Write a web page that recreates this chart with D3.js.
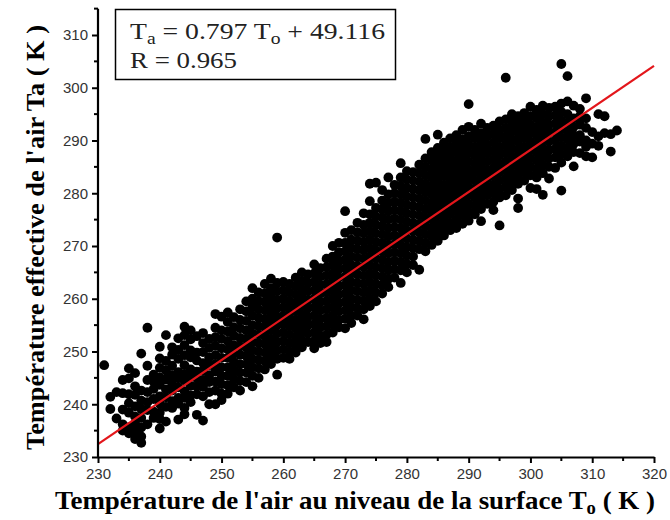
<!DOCTYPE html>
<html><head><meta charset="utf-8">
<script src="https://cdn.jsdelivr.net/npm/d3@7"></script>
<style>body{margin:0;background:#fff}svg{display:block}</style>
</head><body>
<svg id="c" width="670" height="520"></svg>
<script>
// ---- data ----
const xTicks = [230,240,250,260,270,280,290,300,310,320];
const yTicks = [230,240,250,260,270,280,290,300,310];
const fitSlope = 0.797, fitIntercept = 49.116, fitR = 0.965;
const fitRange = [230, 320];

// columns: [To, [Ta values...]]
const pointsLow = [
 [231,[247.4]],[232,[241.4,239.1]],[233,[242.3,237.3]],
 [234,[244.6,242.1,239.0,236.2,235.0]],
 [235,[246.8,244.9,241.9,240.2,238.4,235.6,234.5]],
 [236,[245.9,243.4,241.8,239.6,237.7,236.4,234.9,233.4]],
 [237,[249.6,242.6,240.7,239.1,237.4,235.6,233.9,232.7]],
 [238,[254.5,247.3,244.6,242.3,240.4,238.9,236.2]],
 [239,[245.6,244.3,242.9,241.0,238.6,237.4]],
 [240,[250.9,248.7,246.9,245.1,243.7,241.5,240.1,238.4,237.2,235.4]],
 [241,[253.1,248.2,246.4,244.7,242.8,241.3,239.5,236.7]],
 [242,[250.8,249.4,247.3,245.5,243.9,242.6,240.6,239.3]],
 [243,[252.5,250.3,248.6,246.1,244.9,243.2,241.2,240.1,237.1]],
 [244,[254.7,253.1,251.2,249.3,247.4,245.7,244.5,242.5,241.2,239.3,238.1]],
 [245,[254.0,252.3,250.2,248.9,246.6,245.3,243.5,241.7,240.4]],
 [246,[252.9,249.8,248.3,246.2,244.9,243.4,241.9,238.0]],
 [247,[253.5,251.6,249.9,247.8,246.4,244.6,243.3,241.5,236.9]],
 [248,[252.4,250.7,248.9,247.4,245.5,244.2,242.3,240.0]],
 [249,[257.1,254.5,252.7,251.1,249.3,247.6,246.2,244.3,242.6,240.0]],
 [250,[256.6,254.0,252.4,250.6,248.8,247.0,245.4,243.8,242.0,240.8]],
 [251,[257.4,255.6,253.8,252.0,250.4,248.8,247.0,245.4,243.6,242.0]],
 [252,[256.5,254.6,253.0,251.2,249.6,248.0,246.4,244.8,243.2]],
 [253,[258.0,256.0,254.4,252.6,251.0,249.4,247.6,246.0,244.4,242.6]],
 [254,[259.5,257.6,255.8,254.0,252.4,250.8,249.2,247.6,246.0,244.2]]
];
const pointsMid = [
 [255,[262.0,260.0,258.4,256.8,255.0,253.4,251.8,250.2,248.6,247.0,245.4,243.4]],
 [256,[261.2,259.6,258.0,256.4,254.8,253.2,251.6,250.0,248.4,246.8,245.0]],
 [257,[262.8,261.0,259.4,257.8,256.2,254.6,253.0,251.4,249.8,248.2,246.6]],
 [258,[263.8,262.0,260.4,258.8,257.2,255.6,254.0,252.4,250.8,249.2,247.6]],
 [259,[271.6,263.0,261.4,259.8,258.2,256.6,255.0,253.4,251.8,250.2,248.6,245.6]],
 [260,[263.2,261.6,260.0,258.4,256.8,255.2,253.6,252.0,250.4,248.8]],
 [261,[262.8,261.2,259.6,258.0,256.4,254.8,253.2,251.6,250.0,248.6]],
 [262,[264.0,262.4,260.8,259.2,257.6,256.0,254.4,252.8,251.2,249.8]],
 [263,[265.0,263.4,261.8,260.2,258.6,257.0,255.4,253.8,252.2,250.8]],
 [264,[264.6,263.0,261.4,259.8,258.2,256.6,255.0,253.4,251.8]],
 [265,[266.5,264.8,263.2,261.6,260.0,258.4,256.8,255.2,253.6,252.0,250.6]],
 [266,[265.8,264.2,262.6,261.0,259.4,257.8,256.2,254.6,253.0,251.6]],
 [267,[267.6,266.0,264.4,262.8,261.2,259.6,258.0,256.4,254.8,253.2,251.8]],
 [268,[270.0,268.0,266.4,264.8,263.2,261.6,260.0,258.4,256.8,255.2,253.6]],
 [269,[270.6,268.8,267.2,265.6,264.0,262.4,260.8,259.2,257.6,256.0,254.6]],
 [270,[276.6,272.5,270.6,269.0,267.4,265.8,264.2,262.6,261.0,259.4,257.8,256.2,254.4]],
 [271,[273.0,271.2,269.6,268.0,266.4,264.8,263.2,261.6,260.0,258.4,256.8,255.4]],
 [272,[274.4,272.6,271.0,269.4,267.8,266.2,264.6,263.0,261.4,259.8,258.2,256.8]],
 [273,[276.2,274.0,272.4,270.8,269.2,267.6,266.0,264.4,262.8,261.2,259.6,258.0,256.1]],
 [274,[281.8,278.5,276.0,274.4,272.8,271.2,269.6,268.0,266.4,264.8,263.2,261.6,260.0,258.6]],
 [275,[282.0,277.2,275.6,274.0,272.4,270.8,269.2,267.6,266.0,264.4,262.8,261.2,259.5]],
 [276,[280.6,278.6,277.0,275.4,273.8,272.2,270.6,269.0,267.4,265.8,264.2,262.6,261.0]],
 [277,[283.0,279.8,278.2,276.6,275.0,273.4,271.8,270.2,268.6,267.0,265.4,263.8,262.2]],
 [278,[281.6,280.0,278.4,276.8,275.2,273.6,272.0,270.4,268.8,267.2,265.6,264.0]],
 [279,[285.7,283.0,281.4,279.8,278.2,276.6,275.0,273.4,271.8,270.2,268.6,267.0,265.4,263.0]],
 [280,[284.2,282.6,281.0,279.4,277.8,276.2,274.6,273.0,271.4,269.8,268.2,266.6,265.0]],
 [281,[284.0,282.4,280.8,279.2,277.6,276.0,274.4,272.8,271.2,269.6,268.0,266.4]],
 [282,[285.4,283.8,282.2,280.6,279.0,277.4,275.8,274.2,272.6,271.0,269.4,265.5]],
 [283,[290.3,286.6,285.0,283.4,281.8,280.2,278.6,277.0,275.4,273.8,272.2,270.6,269.0]],
 [284,[287.8,286.2,284.6,283.0,281.4,279.8,278.2,276.6,275.0,273.4,271.8,270.2]]
];
const pointsHigh = [
 [285,[291.1,288.6,287.0,285.4,283.8,282.2,280.6,279.0,277.4,275.8,274.2,272.6,271.0]],
 [286,[289.6,288.0,286.4,284.8,283.2,281.6,280.0,278.4,276.8,275.2,273.6,272.0]],
 [287,[290.4,288.8,287.2,285.6,284.0,282.4,280.8,279.2,277.6,276.0,274.4,273.0]],
 [288,[291.0,289.4,287.8,286.2,284.6,283.0,281.4,279.8,278.2,276.6,275.0,273.4]],
 [289,[292.0,290.2,288.6,287.0,285.4,283.8,282.2,280.6,279.0,277.4,275.8,274.2]],
 [290,[296.9,292.6,290.8,289.2,287.6,286.0,284.4,282.8,281.2,279.6,278.0,276.4,274.8]],
 [291,[292.0,290.4,288.8,287.2,285.6,284.0,282.4,280.8,279.2,277.6,276.0]],
 [292,[293.2,291.4,289.8,288.2,286.6,285.0,283.4,281.8,280.2,278.6,277.0,274.7]],
 [293,[292.4,290.8,289.2,287.6,286.0,284.4,282.8,281.2,279.6,278.0]],
 [294,[292.8,291.2,289.6,288.0,286.4,284.8,283.2,281.6,280.0,278.4,276.8]],
 [295,[293.6,292.0,290.4,288.8,287.2,285.6,284.0,282.4,280.8,279.2,273.9]],
 [296,[301.9,294.0,292.4,290.8,289.2,287.6,286.0,284.4,282.8,281.2,279.6]],
 [297,[295.0,293.4,291.8,290.2,288.6,287.0,285.4,283.8,282.2,280.6]],
 [298,[294.6,293.0,291.4,289.8,288.2,286.6,285.0,283.4,281.8,279.0,277.2]],
 [299,[295.2,293.6,292.0,290.4,288.8,287.2,285.6,284.0,282.4]],
 [300,[296.4,294.6,293.0,291.4,289.8,288.2,286.6,285.0,283.4,281.0]],
 [301,[295.8,294.2,292.6,291.0,289.4,287.8,286.2,284.6,283.0,280.8]],
 [302,[296.6,295.0,293.4,291.8,290.2,288.6,287.0,285.4,283.8,279.7]],
 [303,[296.2,294.6,293.0,291.4,289.8,288.2,286.6,285.0,282.8]],
 [304,[296.4,294.8,293.2,291.6,290.0,288.4,286.8,284.8]],
 [305,[304.5,297.0,295.4,293.8,292.2,290.6,289.0,287.4,285.8,280.5]],
 [306,[302.2,297.4,295.0,293.4,291.8,290.2,288.6,287.0]],
 [307,[296.6,294.2,292.6,291.0,289.4,287.8,285.1]],
 [308,[296.0,294.6,293.0,291.0,289.8,287.6]],
 [309,[298.0,294.2,292.4,290.0,288.8,287.0]],
 [310,[291.6,289.4,286.8]],
 [311,[295.0,290.8,289.0]],
 [312,[294.6,291.4]],
 [313,[287.9,291.2]],
 [314,[291.9]]
];

// ---- chart ----
const svg = d3.select("#c");
const x = d3.scaleLinear().domain([230,320]).range([98,654]);
const y = d3.scaleLinear().domain([230,310]).range([457,35]);
const yTop = y(315);

const pts = [];
[pointsLow, pointsMid, pointsHigh].forEach(group =>
  group.forEach(([xv, ys]) => ys.forEach(yv => pts.push([xv, yv]))));

svg.append("g").selectAll("circle").data(pts).join("circle")
  .attr("cx", d => x(d[0])).attr("cy", d => y(d[1]))
  .attr("r", 4.9).attr("fill", "#000");

// regression line
svg.append("line")
  .attr("x1", x(fitRange[0])).attr("y1", y(fitSlope*fitRange[0]+fitIntercept))
  .attr("x2", x(fitRange[1])).attr("y2", y(fitSlope*fitRange[1]+fitIntercept))
  .attr("stroke", "#e3161b").attr("stroke-width", 2.2);

// axes
const minorX = d3.range(235, 320, 10);
const minorY = d3.range(235, 316, 10);
const xAxis = d3.axisBottom(x).tickValues(xTicks).tickSize(6).tickSizeOuter(0).tickPadding(5).tickFormat(d3.format("d"));
const yAxis = d3.axisLeft(y).tickValues(yTicks).tickSize(6).tickSizeOuter(0).tickPadding(4).tickFormat(d3.format("d"));

const gx = svg.append("g").attr("transform", `translate(0,${y(230)})`).call(xAxis);
const gy = svg.append("g").attr("transform", `translate(${x(230)},0)`).call(yAxis);
gy.select(".domain").attr("d", `M0,${y(230)+1}V${yTop}`);
[gx, gy].forEach(g => {
  g.select(".domain").attr("stroke", "#000").attr("stroke-width", 2.2);
  g.selectAll(".tick line").attr("stroke", "#000").attr("stroke-width", 2);
  g.selectAll(".tick text").attr("font-family", "Liberation Sans, Arial, sans-serif")
   .attr("font-size", 15).attr("fill", "#333");
});
gx.selectAll(".minor").data(minorX).join("line").attr("class","minor")
  .attr("x1", d => x(d)).attr("x2", d => x(d)).attr("y1", 0).attr("y2", 4)
  .attr("stroke", "#000").attr("stroke-width", 2);
gy.selectAll(".minor").data(minorY).join("line").attr("class","minor")
  .attr("y1", d => y(d)).attr("y2", d => y(d)).attr("x1", 0).attr("x2", -4)
  .attr("stroke", "#000").attr("stroke-width", 2);

// axis titles
const serif = "Liberation Serif, Times New Roman, serif";
const xt = svg.append("text").attr("x", 55).attr("y", 509)
  .attr("textLength", 600).attr("lengthAdjust", "spacingAndGlyphs")
  .attr("font-family", serif).attr("font-weight", "bold").attr("font-size", 26).attr("fill", "#000");
xt.append("tspan").text("Température de l'air au niveau de la surface T");
xt.append("tspan").attr("dy", 5).attr("font-size", 18).text("o");
xt.append("tspan").attr("dy", -5).text(" ( K )");

svg.append("text").attr("transform", `translate(44,450) rotate(-90)`)
  .attr("textLength", 425).attr("lengthAdjust", "spacingAndGlyphs")
  .attr("font-family", serif).attr("font-weight", "bold").attr("font-size", 26).attr("fill", "#000")
  .text("Température effective de l'air Ta ( K )");

// equation box
svg.append("rect").attr("x", 115.5).attr("y", 9.5).attr("width", 280).attr("height", 70)
  .attr("fill", "#fff").attr("stroke", "#000").attr("stroke-width", 1.5);
const eq = svg.append("text").attr("x", 130).attr("y", 39)
  .attr("textLength", 255).attr("lengthAdjust", "spacingAndGlyphs")
  .attr("font-family", serif).attr("font-size", 24).attr("fill", "#222");
eq.append("tspan").text("T");
eq.append("tspan").attr("dy", 5).attr("font-size", 17).text("a");
eq.append("tspan").attr("dy", -5).text(` = ${fitSlope} T`);
eq.append("tspan").attr("dy", 5).attr("font-size", 17).text("o");
eq.append("tspan").attr("dy", -5).text(` + ${fitIntercept}`);
svg.append("text").attr("x", 130).attr("y", 68)
  .attr("textLength", 107).attr("lengthAdjust", "spacingAndGlyphs")
  .attr("font-family", serif).attr("font-size", 24).attr("fill", "#222")
  .text(`R = ${fitR}`);
</script>
</body></html>
